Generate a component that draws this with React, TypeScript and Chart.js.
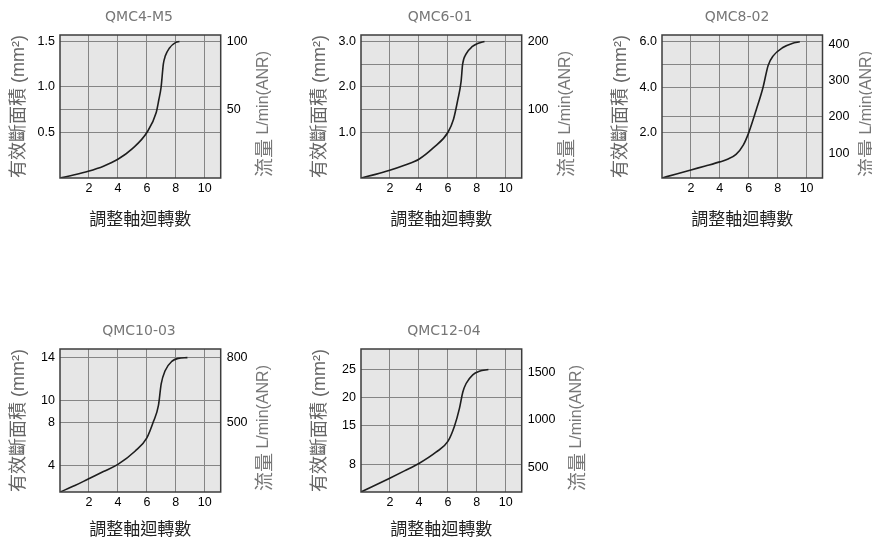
import React, { useEffect, useRef } from 'react';
import { Chart, registerables } from 'chart.js';

Chart.register(...registerables);

// ---------- shared axis text ----------
const AREA_TITLE = '有效斷面積 (mm²)';
const FLOW_TITLE = '流量 L/min(ANR)';
const TURNS_TITLE = '調整軸迴轉數';
const turnTicks = [2, 4, 6, 8, 10];
const turnLabels = ['2', '4', '6', '8', '10'];

// ---------- QMC4-M5 ----------
const qmc4Turns = [0, 1, 1.95, 3, 4, 5, 6, 6.64, 6.82, 6.98, 7.14, 7.27, 7.55, 8.0, 8.25];
const qmc4Area = [0, 0.035, 0.074, 0.13, 0.206, 0.323, 0.5, 0.716, 0.854, 0.994, 1.253, 1.339, 1.426, 1.49, 1.5];
const qmc4AreaTicks = [0.5, 1.0, 1.5];
const qmc4AreaLabels = ['0.5', '1.0', '1.5'];
const qmc4FlowTicks = [50, 100];
const qmc4FlowLabels = ['50', '100'];

// ---------- QMC6-01 ----------
const qmc6Turns = [0, 1, 1.93, 3, 4.0, 4.99, 6.0, 6.39, 6.68, 6.91, 7.02, 7.25, 7.7, 8.1, 8.53];
const qmc6Area = [0, 0.08, 0.164, 0.28, 0.413, 0.66, 1.0, 1.29, 1.71, 2.11, 2.5, 2.72, 2.89, 2.96, 3.0];
const qmc6AreaTicks = [1.0, 2.0, 2.5, 3.0];
const qmc6AreaLabels = ['1.0', '2.0', '', '3.0'];
const qmc6FlowTicks = [100, 200];
const qmc6FlowLabels = ['100', '200'];

// ---------- QMC8-02 ----------
const qmc8Turns = [0, 1, 2.0, 3, 4.0, 4.53, 5.12, 5.63, 6.0, 6.52, 6.99, 7.34, 7.69, 8.36, 9.0, 9.53];
const qmc8Area = [0, 0.18, 0.357, 0.53, 0.71, 0.826, 1.04, 1.46, 2.0, 3.01, 4.0, 4.96, 5.38, 5.75, 5.93, 6.0];
const qmc8AreaTicks = [2.0, 4.0, 5.0, 6.0];
const qmc8AreaLabels = ['2.0', '4.0', '', '6.0'];
const qmc8FlowTicks = [100, 200, 300, 400];
const qmc8FlowLabels = ['100', '200', '300', '400'];

// ---------- QMC10-03 ----------
const qmc10Turns = [0, 1.03, 1.95, 3, 4.0, 5.18, 6.0, 6.46, 6.8, 6.99, 7.26, 7.72, 8.17, 8.8];
const qmc10Area = [1.5, 2.1, 2.71, 3.4, 4.07, 5.29, 6.53, 8.07, 9.55, 11.56, 12.78, 13.65, 13.93, 14.0];
const qmc10AreaTicks = [4, 8, 10, 14];
const qmc10AreaLabels = ['4', '8', '10', '14'];
const qmc10FlowTicks = [500, 800];
const qmc10FlowLabels = ['500', '800'];

// ---------- QMC12-04 ----------
const qmc12Turns = [0, 1.95, 3, 4.0, 5.18, 6.0, 6.46, 6.8, 7.03, 7.26, 7.72, 8.17, 8.8];
const qmc12Area = [3.0, 5.44, 6.8, 8.13, 10.16, 12.1, 14.87, 18.02, 20.94, 22.5, 24.06, 24.68, 25];
const qmc12AreaTicks = [8, 15, 20, 25];
const qmc12AreaLabels = ['8', '15', '20', '25'];
const qmc12FlowTicks = [500, 1000, 1500];
const qmc12FlowLabels = ['500', '1000', '1500'];

// ---------- layout / styling ----------
const PANEL_H = 236;
const LEFT_W = 60;
const BOTTOM_H = 58;
const X_MAX = 11.1;
const TICK_FONT = { family: '"Liberation Sans", Arial, sans-serif', size: 12.5 };
const GRID_COLOR = '#858585';

type Spec = {
  title: string;
  turns: number[];
  area: number[];
  areaTicks: number[];
  areaLabels: string[];
  flowTicks: number[];
  flowLabels: string[];
  flowGrid: number[];
  areaMin: number;
  areaMax: number;
  flowMin: number;
  flowMax: number;
  left: number;
  top: number;
  width: number;
  rightWidth: number;
  flowTitleGap: number;
  xTitlePad: number;
};

const specs: Spec[] = [
  {
    title: 'QMC4-M5', turns: qmc4Turns, area: qmc4Area,
    areaTicks: qmc4AreaTicks, areaLabels: qmc4AreaLabels,
    flowTicks: qmc4FlowTicks, flowLabels: qmc4FlowLabels, flowGrid: [50],
    areaMin: 0, areaMax: 1.571, flowMin: 0, flowMax: 104.7,
    left: 0, top: 0, width: 278, rightWidth: 57.3, flowTitleGap: 43, xTitlePad: 7.2,
  },
  {
    title: 'QMC6-01', turns: qmc6Turns, area: qmc6Area,
    areaTicks: qmc6AreaTicks, areaLabels: qmc6AreaLabels,
    flowTicks: qmc6FlowTicks, flowLabels: qmc6FlowLabels, flowGrid: [100],
    areaMin: 0, areaMax: 3.142, flowMin: 0, flowMax: 209.5,
    left: 301, top: 0, width: 278, rightWidth: 57.3, flowTitleGap: 44, xTitlePad: 7.2,
  },
  {
    title: 'QMC8-02', turns: qmc8Turns, area: qmc8Area,
    areaTicks: qmc8AreaTicks, areaLabels: qmc8AreaLabels,
    flowTicks: qmc8FlowTicks, flowLabels: qmc8FlowLabels, flowGrid: [200],
    areaMin: 0, areaMax: 6.3, flowMin: 31.5, flowMax: 426,
    left: 602, top: 0, width: 270, rightWidth: 49.5, flowTitleGap: 44, xTitlePad: 7.2,
  },
  {
    title: 'QMC10-03', turns: qmc10Turns, area: qmc10Area,
    areaTicks: qmc10AreaTicks, areaLabels: qmc10AreaLabels,
    flowTicks: qmc10FlowTicks, flowLabels: qmc10FlowLabels, flowGrid: [],
    areaMin: 1.5, areaMax: 14.8, flowMin: 175, flowMax: 840,
    left: 0, top: 314, width: 278, rightWidth: 57.3, flowTitleGap: 43, xTitlePad: 11.2,
  },
  {
    title: 'QMC12-04', turns: qmc12Turns, area: qmc12Area,
    areaTicks: qmc12AreaTicks, areaLabels: qmc12AreaLabels,
    flowTicks: qmc12FlowTicks, flowLabels: qmc12FlowLabels, flowGrid: [],
    areaMin: 3.0, areaMax: 28.7, flowMin: 238, flowMax: 1750,
    left: 301, top: 314, width: 286, rightWidth: 65.3, flowTitleGap: 55, xTitlePad: 11.2,
  },
];

// plot background, frame and the bottom-to-top right axis title
const framePlugin = {
  id: 'frame',
  beforeDraw(chart: any) {
    const { ctx, chartArea } = chart;
    const { left, top, width, height } = chartArea;
    ctx.save();
    ctx.fillStyle = '#e6e6e6';
    ctx.fillRect(left, top, width, height);
    ctx.restore();
  },
  afterDraw(chart: any, _args: any, opts: any) {
    const { ctx, chartArea } = chart;
    const { left, top, width, height, right, bottom } = chartArea;
    ctx.save();
    ctx.strokeStyle = '#3c3c3c';
    ctx.lineWidth = 1.5;
    ctx.strokeRect(left, top, width, height);

    const text: string = opts.text || '';
    const cut = text.indexOf(' ');
    const cjk = cut >= 0 ? text.slice(0, cut) : text;
    const latin = cut >= 0 ? text.slice(cut) : '';
    const cjkFont = '19px "Noto Sans CJK TC", sans-serif';
    const latinFont = '16px "Liberation Sans", Arial, sans-serif';
    ctx.font = cjkFont;
    const w1 = ctx.measureText(cjk).width;
    ctx.font = latinFont;
    const w2 = ctx.measureText(latin).width;
    const total = w1 + w2;
    ctx.translate(right + (opts.gap || 43), bottom - 64);
    ctx.rotate(-Math.PI / 2);
    ctx.fillStyle = '#777';
    ctx.textBaseline = 'middle';
    ctx.textAlign = 'left';
    ctx.font = cjkFont;
    ctx.fillText(cjk, -total / 2, 0);
    ctx.font = latinFont;
    ctx.fillText(latin, -total / 2 + w1, 0);
    ctx.restore();
  },
};

function Panel({ spec }: { spec: Spec }) {
  const ref = useRef<HTMLCanvasElement>(null);

  useEffect(() => {
    if (!ref.current) return;
    const points = spec.turns.map((t, i) => ({ x: t, y: spec.area[i] }));
    const chart = new Chart(ref.current, {
      type: 'line',
      data: {
        datasets: [
          {
            data: points,
            xAxisID: 'x',
            yAxisID: 'area',
            borderColor: '#1e1e1e',
            borderWidth: 1.6,
            pointRadius: 0,
            fill: false,
            cubicInterpolationMode: 'monotone',
          },
        ],
      },
      options: {
        animation: false,
        responsive: true,
        maintainAspectRatio: false,
        events: [],
        layout: { padding: 0 },
        plugins: {
          legend: { display: false },
          tooltip: { enabled: false },
          title: {
            display: true,
            text: spec.title,
            color: '#777',
            font: { family: '"DejaVu Sans", sans-serif', size: 14, weight: 'normal' },
            padding: { top: 9, bottom: 9.2 },
          },
          frame: { text: FLOW_TITLE, gap: spec.flowTitleGap },
        } as any,
        scales: {
          x: {
            type: 'linear',
            position: 'bottom',
            min: 0,
            max: X_MAX,
            afterBuildTicks: (s: any) => {
              s.ticks = turnTicks.map((v) => ({ value: v }));
            },
            afterFit: (s: any) => {
              s.height = BOTTOM_H;
            },
            ticks: {
              font: TICK_FONT,
              color: '#000',
              padding: 3,
              maxRotation: 0,
              callback: (v: any) => {
                const i = turnTicks.indexOf(Number(v));
                return i >= 0 ? turnLabels[i] : '';
              },
            },
            grid: { color: GRID_COLOR, lineWidth: 1, drawTicks: false },
            border: { display: false },
            title: {
              display: true,
              text: TURNS_TITLE,
              color: '#222',
              font: { family: '"Noto Sans CJK TC", sans-serif', size: 17 },
              padding: { top: 0, bottom: spec.xTitlePad },
            },
          },
          area: {
            type: 'linear',
            position: 'left',
            min: spec.areaMin,
            max: spec.areaMax,
            afterBuildTicks: (s: any) => {
              s.ticks = spec.areaTicks.map((v) => ({ value: v }));
            },
            afterFit: (s: any) => {
              s.width = LEFT_W;
            },
            ticks: {
              font: TICK_FONT,
              color: '#000',
              padding: 5,
              callback: (v: any) => {
                const i = spec.areaTicks.indexOf(Number(v));
                return i >= 0 ? spec.areaLabels[i] : '';
              },
            },
            grid: { color: GRID_COLOR, lineWidth: 1, drawTicks: false },
            border: { display: false },
            title: {
              display: true,
              text: AREA_TITLE,
              color: '#666',
              font: { family: '"Liberation Sans", "Noto Sans CJK TC", sans-serif', size: 18 },
              padding: { top: 8, bottom: 0 },
            },
          },
          flow: {
            type: 'linear',
            position: 'right',
            min: spec.flowMin,
            max: spec.flowMax,
            afterBuildTicks: (s: any) => {
              s.ticks = spec.flowTicks.map((v) => ({ value: v }));
            },
            afterFit: (s: any) => {
              s.width = spec.rightWidth;
            },
            ticks: {
              font: TICK_FONT,
              color: '#000',
              padding: 6,
              callback: (v: any) => {
                const i = spec.flowTicks.indexOf(Number(v));
                return i >= 0 ? spec.flowLabels[i] : '';
              },
            },
            grid: {
              lineWidth: 1,
              drawTicks: false,
              color: (c: any) =>
                c.tick && spec.flowGrid.includes(c.tick.value) ? GRID_COLOR : 'rgba(0,0,0,0)',
            },
            border: { display: false },
            title: { display: false },
          },
        } as any,
      },
      plugins: [framePlugin as any],
    } as any);
    return () => chart.destroy();
  }, [spec]);

  return (
    <div
      style={{
        position: 'absolute',
        left: spec.left,
        top: spec.top,
        width: spec.width,
        height: PANEL_H,
      }}
    >
      <canvas ref={ref} />
    </div>
  );
}

export default function App() {
  return (
    <div
      style={{
        position: 'absolute',
        left: 0,
        top: 0,
        width: 872,
        height: 539,
        overflow: 'hidden',
        background: '#ffffff',
      }}
    >
      {specs.map((s) => (
        <Panel key={s.title} spec={s} />
      ))}
    </div>
  );
}
